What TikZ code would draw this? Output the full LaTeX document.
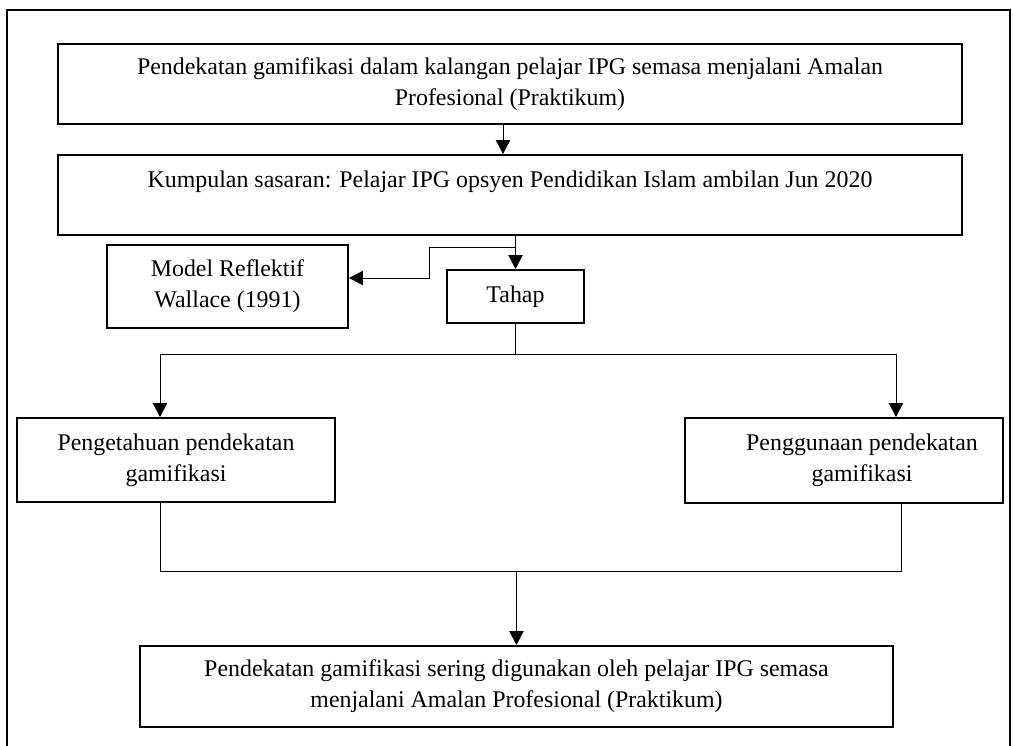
\documentclass[tikz,border=0pt]{standalone}
\usepackage{fontspec}
\setmainfont{Liberation Serif}
\usetikzlibrary{arrows.meta,positioning,calc}

\begin{document}
\begin{tikzpicture}[x=0.25mm, y=-0.25mm,
  box/.style={draw, line width=1.4pt, inner sep=0pt, align=center,
    font=\fontsize{17}{22}\selectfont},
  arr/.style={-{Triangle[length=3.5mm,width=3.6mm]}, line width=0.7pt},
  conn/.style={line width=0.7pt}]
\useasboundingbox (0,0) rectangle (1013,746);
\draw[line width=1.4pt] (7,746) -- (7,10) -- (1010,10) -- (1010,746);

\node[box, minimum width=226mm, minimum height=20mm] (tajuk) at (510,84)
  {Pendekatan gamifikasi dalam kalangan pelajar IPG semasa menjalani Amalan\\ Profesional (Praktikum)};
\node[box, minimum width=226mm, minimum height=20mm] (sasaran) at (510,195)
  {Kumpulan sasaran: Pelajar IPG opsyen Pendidikan Islam ambilan Jun 2020\\ ~};
\node[box, minimum width=60.25mm, minimum height=20.75mm] (model) at (227.5,286.5)
  {Model Reflektif\\ Wallace (1991)};
\node[box, minimum width=34.25mm, minimum height=13.25mm] (tahap) at (515.5,296.5) {Tahap};
\node[box, minimum width=79.5mm, minimum height=21mm] (tahu) at (176,460)
  {Pengetahuan pendekatan\\ gamifikasi};
\node[box, minimum width=79.5mm, minimum height=21.25mm] (guna) at (844,460.5)
  {\hspace*{9mm}Penggunaan pendekatan\\ \hspace*{9mm}gamifikasi};
\node[box, minimum width=188.25mm, minimum height=20.25mm] (hasil) at (516.5,686.5)
  {Pendekatan gamifikasi sering digunakan oleh pelajar IPG semasa\\ menjalani Amalan Profesional (Praktikum)};

% aliran atas
\draw[arr] ([xshift=-1.75mm]tajuk.south) -- ([xshift=-1.75mm]sasaran.north);
\draw[arr] (sasaran.south -| tahap.north) -- (tahap.north);
\coordinate (cabang) at ($(sasaran.south -| tahap.north)+(0,12)$);
\draw[arr] (cabang) -- ++(-86,0) |- ([yshift=2.125mm]model.east);

% tahap ke dua cabang
\coordinate (pecah) at ($(tahap.south)+(0,31)$);
\draw[conn] (tahap.south) -- (pecah);
\draw[arr] (pecah) -| ([xshift=-4mm]tahu.north);
\draw[arr] (pecah) -| ([xshift=13mm]guna.north);

% gabung ke hasil
\coordinate (gabung) at ($(hasil.north)+(0,-74)$);
\draw[conn] ([xshift=-4mm]tahu.south) |- (gabung);
\draw[conn] ([xshift=14.25mm]guna.south) |- (gabung);
\draw[arr] (gabung) -- (hasil.north);
\end{tikzpicture}
\end{document}
